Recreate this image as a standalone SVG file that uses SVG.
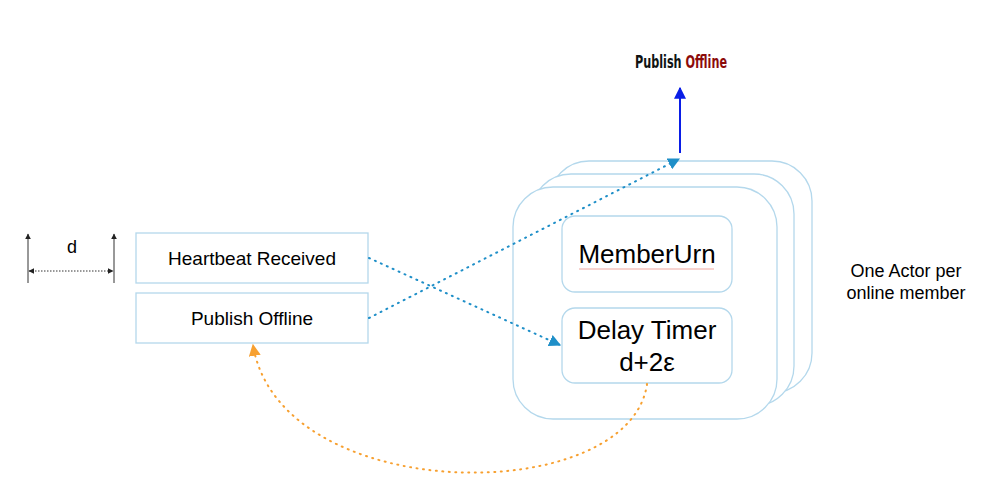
<svg xmlns="http://www.w3.org/2000/svg" width="1000" height="495" viewBox="0 0 1000 495">
<style>
.box{fill:#fff;stroke:#b4d8ec;stroke-width:1.3}
.t{font-family:"Liberation Sans",Arial,sans-serif;fill:#000;text-anchor:middle}
.dot{fill:none;stroke-width:2;stroke-dasharray:1 5.5;stroke-linecap:round}
.pub{font-family:"DejaVu Sans Condensed","DejaVu Sans",sans-serif;font-size:17px;font-weight:bold}
</style>
<defs>
<linearGradient id="pubfill" gradientUnits="userSpaceOnUse" x1="635" y1="0" x2="727" y2="0">
<stop offset="0.5" stop-color="#111"/>
<stop offset="0.5" stop-color="#8b0a0a"/>
</linearGradient>
<marker id="ab" viewBox="0 0 10 10" refX="9" refY="5" markerWidth="12" markerHeight="12" markerUnits="userSpaceOnUse" orient="auto"><path d="M0,0 L10,5 L0,10 z" fill="#1f8fc8"/></marker>
<marker id="ao" viewBox="0 0 10 10" refX="9" refY="5" markerWidth="12" markerHeight="12" markerUnits="userSpaceOnUse" orient="auto"><path d="M0,0 L10,5 L0,10 z" fill="#f7a030"/></marker>
<marker id="abl" viewBox="0 0 10 10" refX="9" refY="5" markerWidth="12" markerHeight="12" markerUnits="userSpaceOnUse" orient="auto"><path d="M0,0 L10,5 L0,10 z" fill="#0a1ee6"/></marker>
<marker id="ak" viewBox="0 0 10 10" refX="9" refY="5" markerWidth="6" markerHeight="6" markerUnits="userSpaceOnUse" orient="auto-start-reverse"><path d="M0,0 L10,5 L0,10 z" fill="#222"/></marker>
</defs>
<rect width="1000" height="495" fill="#fff"/>
<g id="dimension">
<line x1="28" y1="283" x2="28" y2="234" stroke="#333" stroke-width="1" marker-end="url(#ak)"/>
<line x1="114" y1="283" x2="114" y2="234" stroke="#333" stroke-width="1" marker-end="url(#ak)"/>
<line x1="29" y1="271" x2="113" y2="271" stroke="#333" stroke-width="1" stroke-dasharray="1.5 1.5" marker-start="url(#ak)" marker-end="url(#ak)"/>
<text class="t" x="72" y="253" font-size="18">d</text>
</g>
<g id="actor-stack">
<rect class="box" x="549" y="161" width="263" height="232" rx="40"/>
<rect class="box" x="531" y="174" width="263" height="232" rx="40"/>
<rect class="box" x="513" y="187" width="264" height="232" rx="40"/>
</g>
<g id="member-urn">
<rect class="box" x="562" y="216" width="170" height="76" rx="13"/>
<text class="t" x="647" y="263" font-size="26">MemberUrn</text>
<line x1="579" y1="269" x2="714" y2="269" stroke="#f4c4bf" stroke-width="1.5"/>
</g>
<g id="delay-timer">
<rect class="box" x="562" y="308" width="170" height="75" rx="13"/>
<text class="t" x="647" y="339" font-size="26">Delay Timer</text>
<text class="t" x="647" y="371" font-size="26">d+2ε</text>
</g>
<g id="heartbeat-received">
<rect class="box" x="136" y="233" width="232" height="50"/>
<text class="t" x="252" y="265" font-size="19">Heartbeat Received</text>
</g>
<g id="publish-offline">
<rect class="box" x="136" y="293" width="232" height="50"/>
<text class="t" x="252" y="325" font-size="19">Publish Offline</text>
</g>
<g id="publish-offline-out">
<text class="pub" x="635" y="68" fill="url(#pubfill)" textLength="92" lengthAdjust="spacingAndGlyphs">Publish Offline</text>
</g>
<g id="actor-label">
<text class="t" x="906" y="277" font-size="18">One Actor per</text>
<text class="t" x="906" y="299" font-size="18">online member</text>
</g>
<g id="connectors">
<line x1="680" y1="153" x2="680" y2="88" stroke="#0a1ee6" stroke-width="2" marker-end="url(#abl)"/>
<line class="dot" x1="369" y1="258" x2="560" y2="345" stroke="#1f8fc8" marker-end="url(#ab)"/>
<line class="dot" x1="369" y1="318" x2="679" y2="159" stroke="#1f8fc8" marker-end="url(#ab)"/>
<path class="dot" d="M647,384 C630,508 280,508 253,345" stroke="#f7a030" marker-end="url(#ao)"/>
</g>
</svg>
